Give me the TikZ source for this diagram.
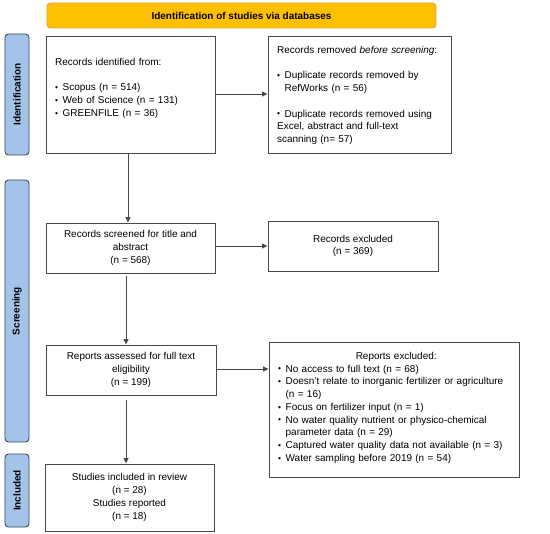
\documentclass[tikz,border=0pt]{standalone}
\usepackage{fontspec}
\setmainfont{Liberation Sans}
\usetikzlibrary{arrows.meta}
\hyphenpenalty=10000
\exhyphenpenalty=10000
\definecolor{bannerfill}{HTML}{FFC000}
\definecolor{bannerdraw}{HTML}{E3A82B}
\definecolor{sidefill}{HTML}{A3C4E8}
\definecolor{sidedraw}{HTML}{3E4A58}
\definecolor{linegray}{HTML}{4A4A4A}
\newcommand\bitem{\par\hangindent=7.5pt\hangafter=1\noindent\makebox[7.5pt][l]{\raisebox{0.4pt}{\scalebox{0.85}{\textbullet}}}}
\tikzset{
  txt/.style={font=\fontsize{10}{12.8}\selectfont, inner sep=0pt},
  boxshape/.style={draw=linegray, line width=0.9pt},
  sidebar/.style={draw=sidedraw, fill=sidefill, line width=0.9pt, rounded corners=3.5pt},
  sidelabel/.style={font=\fontsize{10}{12}\selectfont\bfseries, rotate=90, inner sep=0pt},
  conn/.style={draw=linegray, line width=0.9pt, -{Triangle[length=5.5pt,width=5pt]}},
}
\begin{document}
\begin{tikzpicture}[x=1bp,y=-1bp]
\useasboundingbox (0,0) rectangle (550,534);
% banner
\node[draw=bannerdraw, fill=bannerfill, line width=0.9pt, rounded corners=3.5pt,
      minimum width=389bp, minimum height=25bp, inner sep=0pt,
      font=\fontsize{10}{12}\selectfont\bfseries] (banner) at (241.5,15.5)
      {Identification of studies via databases};
% side bars
\node[sidebar, minimum width=24bp, minimum height=121bp, inner sep=0pt] (sid) at (17,94.5) {};
\node[sidelabel] (sidl) at (sid.center) {Identification};
\node[sidebar, minimum width=24bp, minimum height=262bp, inner sep=0pt] (sscr) at (17,311) {};
\node[sidelabel] (sscrl) at (sscr.center) {Screening};
\node[sidebar, minimum width=24bp, minimum height=73bp, inner sep=0pt] (sinc) at (17,490.5) {};
\node[sidelabel] (sincl) at (sinc.center) {Included};
% boxes
\node[boxshape, minimum width=169bp, minimum height=117bp, inner sep=0pt] (b1) at (130.5,94.5) {};
\node[txt, anchor=north west, text width=150bp, align=left] (t1) at (55,58)
  {Records identified from:\par\vspace{12.8pt}
   \bitem Scopus (n = 514)
   \bitem Web of Science (n = 131)
   \bitem GREENFILE (n = 36)};
\node[boxshape, minimum width=183bp, minimum height=117bp, inner sep=0pt] (b2) at (359.5,94.5) {};
\node[txt, anchor=north west, text width=172bp, align=left] (t2) at (277,46)
  {Records removed \emph{before screening}:\par\vspace{12.8pt}
   \bitem Duplicate records removed by\newline RefWorks (n = 56)\par\vspace{12.8pt}
   \bitem Duplicate records removed using\newline Excel, abstract and full-text\newline scanning (n= 57)};
\node[boxshape, txt, minimum width=169bp, minimum height=50bp, align=center] (b3) at (130.5,248)
  {Records screened for title and\\abstract\\(n = 568)};
\node[boxshape, txt, minimum width=170bp, minimum height=50bp, align=center] (b4) at (353,246)
  {Records excluded\\(n = 369)};
\node[boxshape, txt, minimum width=170bp, minimum height=50bp, align=center] (b5) at (131,370)
  {Reports assessed for full text\\eligibility\\(n = 199)};
\node[boxshape, minimum width=250bp, minimum height=135bp, inner sep=0pt] (b6) at (394,409.5) {};
\node[txt, anchor=north west, text width=236bp, align=left] (t6) at (278,352)
  {\centerline{Reports excluded:}
   \bitem No access to full text (n = 68)
   \bitem Doesn't relate to inorganic fertilizer or agriculture\newline (n = 16)
   \bitem Focus on fertilizer input (n = 1)
   \bitem No water quality nutrient or physico-chemical\newline parameter data (n = 29)
   \bitem Captured water quality data not available (n = 3)
   \bitem Water sampling before 2019 (n = 54)};
\node[boxshape, txt, minimum width=169bp, minimum height=67bp, align=center] (b7) at (129.5,497.5)
  {Studies included in review\\(n = 28)\\Studies reported\\(n = 18)};
% connectors
\draw[conn] (b1.east |- 0,94) -- (b2.west |- 0,94);
\draw[conn] (128,153) -- (b3.north -| 128,0);
\draw[conn] (b3.east |- 0,246) -- (b4.west |- 0,246);
\draw[conn] (126,276) -- (b5.north -| 126,0);
\draw[conn] (b5.east |- 0,369) -- (b6.west |- 0,369);
\draw[conn] (126,400) -- (b7.north -| 126,0);
\end{tikzpicture}
\end{document}
